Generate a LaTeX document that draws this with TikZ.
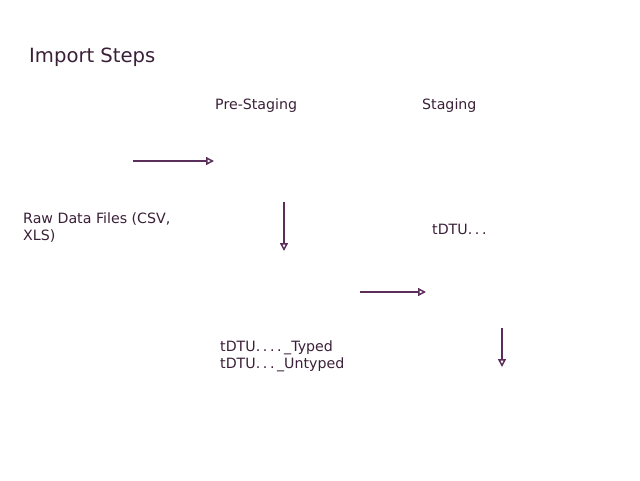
\documentclass[tikz,border=0pt]{standalone}
\usepackage{fontspec}
\setmainfont{DejaVu Sans}
\usetikzlibrary{arrows.meta}
\definecolor{plum}{HTML}{5A2D5A}
\definecolor{ink}{HTML}{3A1F38}
\newcommand{\wdot}{.\kern2.6pt}

\begin{document}
\begin{tikzpicture}[x=1pt, y=-1pt,
        txt/.style={anchor=base west, inner sep=0pt, text=ink, align=left,
            font=\fontsize{14.2}{17}\selectfont},
        flow/.style={-{Triangle[open, length=8pt, width=8pt]}, draw=plum, line width=1.5pt}]
        \useasboundingbox (0,0) rectangle (640,480);

        % headings
        \node[txt, font=\fontsize{19.6}{24}\selectfont] (title) at (29, 62) {Import Steps};
        \node[txt] (prestaging) at (215, 109) {Pre-Staging};
        \node[txt] (staging) at (422, 109) {Staging};

        % tables (base = last line)
        \node[txt] (raw) at (23, 240) {Raw Data Files (CSV,\\XLS)};
        \node[txt] (tdtu) at (432, 234) {tDTU\wdot\wdot.};
        \node[txt] (typed) at (220, 368) {tDTU\wdot\wdot\wdot\wdot\_Typed\\tDTU\wdot\wdot\wdot\_Untyped};

        % arrow ends
        \coordinate (a1) at (133, 161);
        \coordinate (b1) at (214, 161);
        \coordinate (a2) at (284, 202);
        \coordinate (b2) at (284, 251);
        \coordinate (a3) at (360, 292);
        \coordinate (b3) at (426, 292);
        \coordinate (a4) at (502, 328);
        \coordinate (b4) at (502, 367);

        \draw[flow] (a1) -- (b1);
        \draw[flow] (a2) -- (b2);
        \draw[flow] (a3) -- (b3);
        \draw[flow] (a4) -- (b4);
    \end{tikzpicture}
\end{document}
